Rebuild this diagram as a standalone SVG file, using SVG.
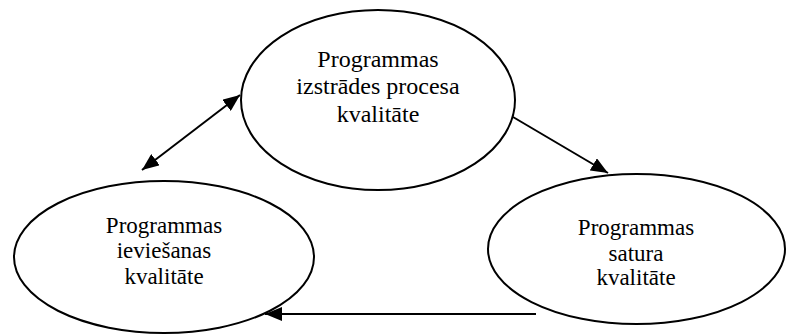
<svg xmlns="http://www.w3.org/2000/svg" width="787" height="334" viewBox="0 0 787 334">
  <style>
    .node ellipse { fill: #ffffff; stroke: #000000; stroke-width: 2; }
    .node text { font-size: 23px; fill: #000000; text-anchor: middle; }
    #node-izstrade text { font-size: 24px; }
    .edge { stroke: #000000; stroke-width: 2; fill: none; }
  </style>
  <defs>
    <marker id="arrow" viewBox="0 0 17 14" refX="17" refY="7" markerWidth="17" markerHeight="14" markerUnits="userSpaceOnUse" orient="auto-start-reverse">
      <path d="M0,0 L17,7 L0,14 Z" fill="#000000"/>
    </marker>
  </defs>
  <rect width="787" height="334" fill="#ffffff"/>

  <g id="node-izstrade" class="node" font-family="'Liberation Serif', 'Times New Roman', serif">
    <ellipse cx="378" cy="100" rx="137" ry="90"/>
    <text x="378" y="67">Programmas</text>
    <text x="378" y="94">izstrādes procesa</text>
    <text x="378" y="122">kvalitāte</text>
  </g>

  <g id="node-ieviesana" class="node" font-family="'Liberation Serif', 'Times New Roman', serif">
    <ellipse cx="164" cy="257" rx="150" ry="76"/>
    <text x="164" y="233">Programmas</text>
    <text x="164" y="258">ieviešanas</text>
    <text x="164" y="284">kvalitāte</text>
  </g>

  <g id="node-saturs" class="node" font-family="'Liberation Serif', 'Times New Roman', serif">
    <ellipse cx="636.5" cy="249" rx="148.5" ry="75"/>
    <text x="636" y="235">Programmas</text>
    <text x="636" y="261">satura</text>
    <text x="636" y="285">kvalitāte</text>
  </g>

  <g id="connectors">
    <line class="edge" x1="142" y1="170" x2="240" y2="95" marker-start="url(#arrow)" marker-end="url(#arrow)"/>
    <line class="edge" x1="513" y1="117" x2="608" y2="173" marker-end="url(#arrow)"/>
    <line class="edge" x1="536" y1="314" x2="265" y2="314" marker-end="url(#arrow)"/>
  </g>
</svg>
